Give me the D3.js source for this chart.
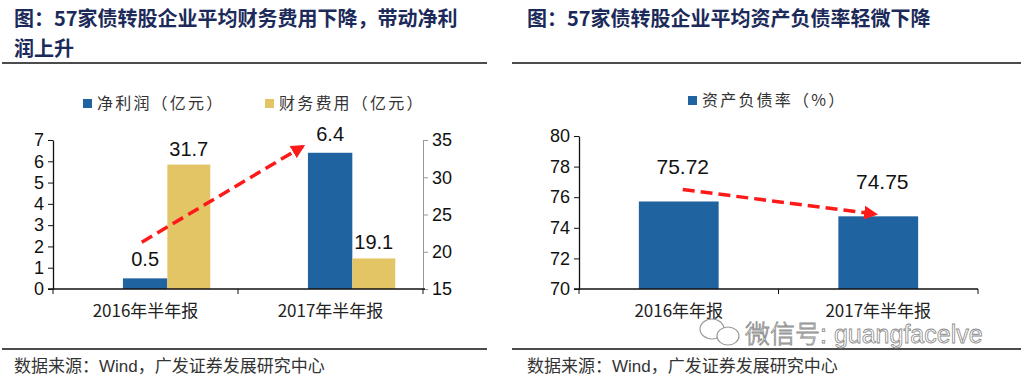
<!DOCTYPE html>
<html>
<head>
<meta charset="utf-8">
<script src="https://cdn.jsdelivr.net/npm/d3@7"></script>
<style>
  body { margin: 0; background: #fff; }
  svg text { font-family: "Liberation Sans", Arial, "Noto Sans CJK SC", sans-serif; }
  .cjk { font-family: "Noto Sans CJK SC", sans-serif; }
</style>
</head>
<body>
<script>
// ---- data (left chart) ----
const leftCats = ['2016年半年报', '2017年半年报'];
const netProfit = [0.5, 6.4];       // 亿元, left axis
const finExpense = [31.7, 19.1];    // 亿元, right axis
const leftTicks = [0, 1, 2, 3, 4, 5, 6, 7];
const rightTicks = [15, 20, 25, 30, 35];
const leftArrow = [[0, 2.2], [1, 6.7]];   // [category index, left-axis value]

// ---- data (right chart) ----
const rightCats = ['2016年年报', '2017年半年报'];
const debtRatio = [75.72, 74.75];
const debtTicks = [70, 72, 74, 76, 78, 80];
const debtArrow = [[0, 76.5], [1, 74.9]];

const W = 1023, H = 384;
const blue = '#1f64a0', gold = '#e3c565', red = '#ff1a1a', titleColor = '#1c2a5a';

const svg = d3.select('body').append('svg')
	.attr('width', W)
	.attr('height', H);

const defs = svg.append('defs');
defs.append('marker')
	.attr('id', 'head')
	.attr('viewBox', '0 0 10 10')
	.attr('refX', 8).attr('refY', 5)
	.attr('markerWidth', 4).attr('markerHeight', 4)
	.attr('markerUnits', 'strokeWidth')
	.attr('orient', 'auto')
	.append('path')
	.attr('d', 'M0,0 L10,5 L0,10 Z')
	.attr('fill', red);

// ---------- titles, rules, footers ----------
function title(x, lines) {
	lines.forEach((t, i) => {
		svg.append('text')
			.attr('class', 'cjk')
			.attr('x', x).attr('y', 26 + i * 30)
			.attr('font-size', 20).attr('font-weight', 'bold')
			.attr('fill', titleColor)
			.text(t);
	});
}
title(14, ['图：57家债转股企业平均财务费用下降，带动净利', '润上升']);
title(527, ['图：57家债转股企业平均资产负债率轻微下降']);

[[2, 487], [512, 1021]].forEach(r => {
	svg.append('line').attr('x1', r[0]).attr('x2', r[1]).attr('y1', 63).attr('y2', 63)
		.attr('stroke', '#111').attr('stroke-width', 1.5);
	svg.append('line').attr('x1', r[0]).attr('x2', r[1]).attr('y1', 349).attr('y2', 349)
		.attr('stroke', '#111').attr('stroke-width', 1.5);
});
[14, 527].forEach(x => {
	svg.append('text')
		.attr('x', x).attr('y', 372)
		.attr('font-size', 17).attr('fill', '#333')
		.text('数据来源：Wind，广发证券发展研究中心');
});

// ---------- legend helper ----------
function legendItem(x, y, color, label) {
	svg.append('rect').attr('x', x).attr('y', y - 4).attr('width', 9).attr('height', 9).attr('fill', color);
	svg.append('text')
		.attr('class', 'cjk')
		.attr('x', x + 14).attr('y', y + 6)
		.attr('font-size', 16).attr('letter-spacing', 2.2)
		.attr('fill', '#333')
		.text(label);
}

// ---------- left chart ----------
const L = { left: 53, right: 423, top: 140, bottom: 289 };
const xL = d3.scaleBand().domain(leftCats).range([L.left, L.right]);
const yL = d3.scaleLinear().domain([0, 7]).range([L.bottom, L.top]);
const yR = d3.scaleLinear().domain([15, 35]).range([L.bottom, L.top]);
const bwL = xL.bandwidth();

legendItem(83, 103, blue, '净利润（亿元）');
legendItem(265, 103, gold, '财务费用（亿元）');

const gL = svg.append('g');

gL.selectAll('rect.np').data(netProfit).enter().append('rect')
	.attr('x', (d, i) => xL(leftCats[i]) + bwL * 0.378)
	.attr('width', bwL * 0.24)
	.attr('y', d => yL(d))
	.attr('height', d => yL(0) - yL(d))
	.attr('fill', blue);

gL.selectAll('rect.fe').data(finExpense).enter().append('rect')
	.attr('x', (d, i) => xL(leftCats[i]) + bwL * 0.618)
	.attr('width', bwL * 0.232)
	.attr('y', d => yR(d))
	.attr('height', d => yR(15) - yR(d))
	.attr('fill', gold);

gL.selectAll('text.np').data(netProfit).enter().append('text')
	.attr('x', (d, i) => xL(leftCats[i]) + bwL * 0.498)
	.attr('y', d => yL(d) - 12)
	.attr('text-anchor', 'middle')
	.attr('font-size', 20).attr('fill', '#111')
	.text(d => d.toFixed(1));

gL.selectAll('text.fe').data(finExpense).enter().append('text')
	.attr('x', (d, i) => xL(leftCats[i]) + bwL * 0.734)
	.attr('y', d => yR(d) - 9)
	.attr('text-anchor', 'middle')
	.attr('font-size', 20).attr('fill', '#111')
	.text(d => d.toFixed(1));

// axes
const axL = gL.append('g').attr('transform', `translate(${L.left},0)`)
	.call(d3.axisLeft(yL).tickValues(leftTicks).tickFormat(d3.format('d')).tickSize(5).tickSizeOuter(0));
const axR = gL.append('g').attr('transform', `translate(${L.right},0)`)
	.call(d3.axisRight(yR).tickValues(rightTicks).tickFormat(d3.format('d')).tickSize(5).tickSizeOuter(0));
axL.selectAll('text').attr('font-size', 18).attr('fill', '#111').attr('x', -9);
axR.selectAll('text').attr('font-size', 18).attr('fill', '#111').attr('x', 9);
axL.select('.domain').attr('stroke', '#111').attr('stroke-width', 1.3);
axL.selectAll('.tick line').attr('stroke', '#111');
axR.select('.domain').attr('stroke', '#999');
axR.selectAll('.tick line').attr('stroke', '#999');

const xAxL = gL.append('g').attr('transform', `translate(0,${L.bottom})`);
xAxL.append('line').attr('x1', L.left - 5).attr('x2', L.right + 2)
	.attr('stroke', '#111').attr('stroke-width', 1.3);
xAxL.selectAll('line.t').data([L.left, xL(leftCats[1]), L.right]).enter().append('line')
	.attr('x1', d => d).attr('x2', d => d).attr('y1', 0).attr('y2', 5)
	.attr('stroke', '#111');
xAxL.selectAll('text').data(leftCats).enter().append('text')
	.attr('class', 'cjk')
	.attr('x', d => xL(d) + bwL / 2)
	.attr('y', 28)
	.attr('text-anchor', 'middle')
	.attr('font-size', 17).attr('fill', '#222')
	.text(d => d);

gL.append('line')
	.attr('x1', xL(leftCats[leftArrow[0][0]]) + bwL * 0.48)
	.attr('y1', yL(leftArrow[0][1]))
	.attr('x2', xL(leftCats[leftArrow[1][0]]) + bwL * 0.35)
	.attr('y2', yL(leftArrow[1][1]))
	.attr('stroke', red).attr('stroke-width', 3.5)
	.attr('stroke-dasharray', '12,6')
	.attr('marker-end', 'url(#head)');

// ---------- right chart ----------
const R = { left: 579, right: 978, top: 136, bottom: 289 };
const xD = d3.scaleBand().domain(rightCats).range([R.left, R.right]);
const yD = d3.scaleLinear().domain([70, 80]).range([R.bottom, R.top]);
const bwD = xD.bandwidth();

legendItem(688, 100, blue, '资产负债率（%）');

const gR = svg.append('g');
gR.selectAll('rect').data(debtRatio).enter().append('rect')
	.attr('x', (d, i) => xD(rightCats[i]) + bwD * 0.3)
	.attr('width', bwD * 0.4)
	.attr('y', d => yD(d))
	.attr('height', d => yD(70) - yD(d))
	.attr('fill', blue);

gR.selectAll('text.v').data(debtRatio).enter().append('text')
	.attr('x', (d, i) => xD(rightCats[i]) + bwD * 0.52)
	.attr('y', d => yD(d) - 27)
	.attr('text-anchor', 'middle')
	.attr('font-size', 21).attr('fill', '#111')
	.text(d => d.toFixed(2));

const axD = gR.append('g').attr('transform', `translate(${R.left},0)`)
	.call(d3.axisLeft(yD).tickValues(debtTicks).tickSize(5).tickSizeOuter(0));
axD.selectAll('text').attr('font-size', 18).attr('fill', '#111').attr('x', -9);
axD.select('.domain').attr('stroke', '#111').attr('stroke-width', 1.3);
axD.selectAll('.tick line').attr('stroke', '#111');

const xAxD = gR.append('g').attr('transform', `translate(0,${R.bottom})`);
xAxD.append('line').attr('x1', R.left - 5).attr('x2', R.right)
	.attr('stroke', '#111').attr('stroke-width', 1.3);
xAxD.selectAll('line.t').data([R.left, xD(rightCats[1]), R.right]).enter().append('line')
	.attr('x1', d => d).attr('x2', d => d).attr('y1', 0).attr('y2', 5)
	.attr('stroke', '#111');
xAxD.selectAll('text').data(rightCats).enter().append('text')
	.attr('class', 'cjk')
	.attr('x', d => xD(d) + bwD / 2)
	.attr('y', 28)
	.attr('text-anchor', 'middle')
	.attr('font-size', 17).attr('fill', '#222')
	.text(d => d);

gR.append('line')
	.attr('x1', xD(rightCats[debtArrow[0][0]]) + bwD * 0.52)
	.attr('y1', yD(debtArrow[0][1]))
	.attr('x2', xD(rightCats[debtArrow[1][0]]) + bwD * 0.485)
	.attr('y2', yD(debtArrow[1][1]))
	.attr('stroke', red).attr('stroke-width', 3.5)
	.attr('stroke-dasharray', '12,6')
	.attr('marker-end', 'url(#head)');

// ---------- watermark ----------
const wm = svg.append('g').attr('fill', 'none').attr('stroke', '#9a9a9a').attr('stroke-width', 1.2);
wm.append('ellipse').attr('cx', 712).attr('cy', 329).attr('rx', 12).attr('ry', 10);
wm.append('ellipse').attr('cx', 728).attr('cy', 336).attr('rx', 11).attr('ry', 9).attr('fill', '#fff');
svg.append('text')
	.attr('x', 745).attr('y', 343)
	.attr('font-family', '"Noto Sans CJK SC", sans-serif')
	.attr('font-size', 25).attr('font-weight', 300)
	.attr('fill', '#fff').attr('stroke', '#8a8a8a').attr('stroke-width', 0.8)
	.text('微信号: guangfacelve');
</script>
</body>
</html>
